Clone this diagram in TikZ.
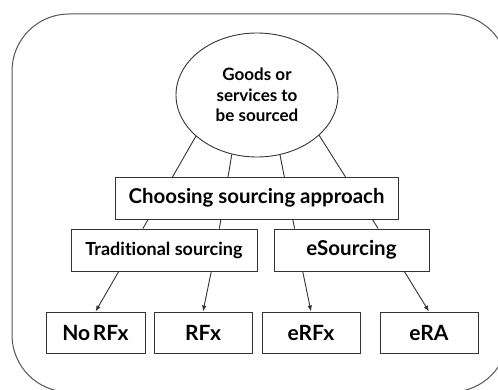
\documentclass[tikz,border=0pt]{standalone}
\usepackage{fontspec}
\setmainfont[Ligatures=NoCommon]{Lato}
\usetikzlibrary{calc,shapes.geometric,arrows.meta}

\definecolor{edge}{HTML}{333333}
\definecolor{frame}{HTML}{555555}

\tikzset{
  box/.style={draw=edge, line width=0.9pt, fill=white, rectangle, inner sep=0pt,
              minimum height=42pt, font=\bfseries\fontsize{18}{20}\selectfont, text=black},
  leafbox/.style={box, minimum height=41pt, minimum width=98pt,
              font=\bfseries\fontsize{21}{24}\selectfont},
  link/.style={draw=edge, line width=0.9pt},
  arrow/.style={link, -{Latex[length=6pt,width=4.5pt]}},
}

\begin{document}
\begin{tikzpicture}[x=1pt,y=-1pt]
  \useasboundingbox (0,0) rectangle (498,390);
  \clip (0,0) rectangle (498,390);

  % surrounding frame
  \draw[frame, line width=1pt, rounded corners=57pt] (12,14) rectangle (508,392);

  % top item
  \node[ellipse, draw=edge, line width=0.9pt, minimum width=162pt, minimum height=124pt,
        inner sep=0pt, align=center, font=\bfseries\fontsize{17}{20.7}\selectfont]
        (goods) at (257,95) {Goods or\\services to\\be sourced};

  % second level
  \node[box, minimum width=186pt, font=\bfseries\fontsize{18}{20}\selectfont] (trad) at (164,250) {Traditional sourcing};
  \node[box, minimum width=155pt, font=\bfseries\fontsize{20.5}{22}\selectfont] (esrc) at (351.5,250) {eSourcing};

  % lines from the top item to the two approaches
  \draw[link] (goods.214.5) -- ($(trad.north west)!0.387!(trad.north east)$);
  \draw[link] (goods.247.4) -- ($(trad.north west)!0.796!(trad.north east)$);
  \draw[link] (goods.291.8) -- ($(esrc.north west)!0.135!(esrc.north east)$);
  \draw[link] (goods.327.6) -- ($(esrc.north west)!0.671!(esrc.north east)$);

  % decision box laid over the lines
  \node[box, minimum width=283pt, font=\bfseries\fontsize{20.4}{22}\selectfont] (choose) at (256.5,198) {Choosing sourcing approach};

  % outcomes
  \node[leafbox, minimum width=99pt] (norfx) at (95.5,332.5) {No\hspace{0.12em}RFx};
  \node[leafbox] (rfx) at (203,332.5) {RFx};
  \node[leafbox] (erfx) at (311,332.5) {eRFx};
  \node[leafbox] (era) at (429,332.5) {eRA};

  \draw[arrow] ($(trad.south west)!0.258!(trad.south east)$) -- (norfx.north);
  \draw[arrow] ($(trad.south west)!0.753!(trad.south east)$) -- (rfx.north);
  \draw[arrow] ($(esrc.south west)!0.187!(esrc.south east)$) -- (erfx.north);
  \draw[arrow] ($(esrc.south west)!0.839!(esrc.south east)$) -- (era.north);
\end{tikzpicture}
\end{document}
